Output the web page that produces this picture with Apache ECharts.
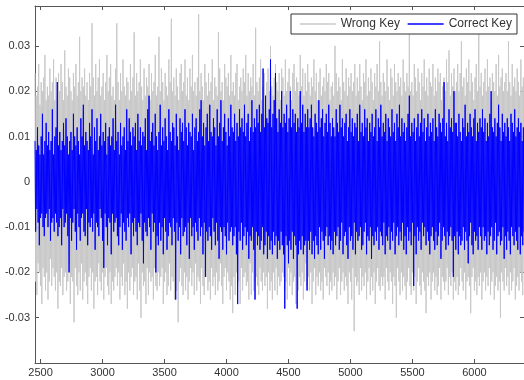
<!DOCTYPE html>
<html>
<head>
<meta charset="utf-8">
<script src="https://cdn.jsdelivr.net/npm/echarts@6/dist/echarts.min.js"></script>
<style>
  html, body { margin: 0; padding: 0; background: #fff; }
  #chart { width: 524px; height: 380px; }
</style>
</head>
<body>
<div id="chart"></div>
<script>
// sample index of the first point and the spacing between points
const sampleStart = 2455;
const sampleStep = 5;

// values, in units of 1e-3
const wrongKey = [
  24,-22,19,-25,21,-18,26,-20,17,-23,22,-27,20,-19,23,-21,28,-24,18,-20,21,-26,19,-22,25,-17,20,-23,22,-19,27,-21,18,-24,23,-20,19,-28,24,-22,
  20,-23,26,-19,22,-25,18,-21,29,-20,21,-24,19,-22,25,-18,23,-27,20,-21,18,-22,24,-31,21,-19,26,-23,19,-25,22,-20,32,-24,20,-18,23,-26,21,-22,
  25,-20,19,-23,22,-27,18,-21,24,-19,21,-24,35,-20,23,-28,19,-22,26,-21,20,-25,23,-18,27,-22,19,-24,21,-20,24,-26,18,-21,22,-19,28,-23,20,-25,
  23,-20,26,-27,19,-22,21,-24,18,-21,25,-19,35,-23,22,-20,18,-26,24,-21,20,-23,27,-18,21,-25,19,-22,23,-28,22,-20,18,-24,26,-21,20,-19,23,-25,
  33,-22,19,-21,24,-26,20,-18,22,-24,27,-30,21,-20,18,-23,25,-22,19,-27,23,-19,21,-25,26,-20,18,-22,24,-21,20,-26,22,-19,28,-23,19,-24,21,-20,
  32,-23,20,-21,25,-19,22,-27,18,-22,24,-20,21,-25,19,-23,27,-18,22,-24,36,-21,20,-22,23,-26,19,-20,25,-24,21,-31,18,-22,24,-19,26,-23,20,-25,
  22,-20,27,-24,19,-21,23,-26,18,-22,25,-19,21,-23,28,-20,20,-25,22,-18,19,-24,23,-21,37,-22,20,-27,24,-19,21,-23,18,-25,26,-20,22,-21,19,-24,
  24,-22,20,-26,22,-19,27,-23,18,-21,23,-25,21,-20,19,-24,33,-22,25,-18,20,-23,22,-27,18,-21,26,-19,23,-24,21,-20,24,-22,19,-26,28,-23,20,-29,
  22,-21,19,-25,24,-20,26,-23,18,-22,21,-27,23,-19,20,-24,25,-21,22,-20,28,-23,19,-22,24,-26,20,-18,23,-25,21,-20,26,-24,19,-22,34,-21,22,-23,
  20,-25,23,-19,27,-22,18,-24,21,-20,24,-23,19,-21,22,-28,25,-20,20,-24,30,-22,21,-26,19,-20,23,-24,26,-19,22,-25,20,-21,24,-23,18,-22,25,-20,
  23,-21,19,-24,27,-22,20,-26,22,-19,25,-23,21,-20,18,-25,24,-22,26,-21,20,-27,23,-19,22,-24,19,-21,28,-23,21,-20,25,-26,19,-22,24,-18,20,-23,
  26,-21,22,-24,19,-20,23,-27,21,-22,27,-19,20,-25,24,-21,18,-23,22,-20,25,-24,19,-22,21,-26,23,-19,20,-21,26,-23,22,-20,24,-25,18,-22,21,-24,
  22,-20,19,-23,30,-21,24,-26,20,-22,23,-19,21,-25,18,-22,27,-20,22,-24,20,-21,25,-23,19,-27,23,-20,21,-22,24,-26,20,-19,22,-33,26,-21,19,-23,
  23,-22,20,-25,26,-19,21,-24,18,-21,24,-23,22,-20,27,-26,19,-22,23,-19,20,-25,25,-21,22,-24,18,-20,24,-27,21,-22,26,-19,20,-23,31,-24,22,-21,
  19,-23,24,-21,22,-26,20,-19,27,-22,21,-24,18,-20,25,-22,23,-27,19,-21,26,-23,22,-30,20,-19,24,-22,21,-25,23,-20,19,-24,27,-21,22,-23,20,-26,
  24,-22,21,-19,34,-23,20,-25,22,-20,19,-24,26,-21,23,-27,20,-22,25,-19,22,-23,18,-25,24,-20,21,-22,27,-24,20,-29,23,-21,19,-23,25,-20,22,-26,
  21,-22,26,-20,19,-24,23,-21,20,-25,25,-23,22,-19,24,-26,18,-21,21,-22,23,-24,20,-22,27,-19,22,-25,29,-21,19,-23,24,-20,21,-26,25,-22,20,-24,
  22,-21,26,-25,20,-23,24,-19,31,-22,21,-24,23,-20,19,-26,25,-22,22,-21,27,-23,20,-29,24,-21,22,-19,18,-24,23,-22,26,-25,20,-21,35,-23,21,-20,
  24,-26,19,-22,22,-20,25,-24,20,-21,27,-23,21,-19,23,-25,18,-22,24,-20,22,-26,20,-23,26,-21,19,-24,28,-22,21,-30,23,-20,25,-22,20,-24,22,-19,
  24,-23,20,-21,31,-25,22,-20,19,-24,26,-22,21,-19,23,-26,20,-23,25,-21,22,-24,19,-20,27,-22,21,-25,23,-20
];

const correctKey = [
  9,-11,7,-6,12,-9,8,-14,6,-8,10,-7,15,-10,6,-12,9,-8,13,-7,8,-10,11,-6,7,-13,9,-9,16,-8,6,-11,10,-7,12,-9,22,-12,8,-10,
  11,-8,7,-14,9,-6,13,-10,8,-9,14,-7,10,-12,6,-20,9,-8,11,-13,7,-9,15,-6,10,-11,8,-15,12,-7,9,-10,6,-13,14,-8,10,-7,17,-11,
  8,-12,11,-6,9,-14,7,-9,13,-10,10,-8,16,-11,6,-7,12,-15,9,-9,14,-10,7,-12,10,-6,15,-8,8,-13,11,-19,9,-7,13,-10,6,-14,10,-8,
  12,-9,8,-16,10,-7,14,-11,7,-9,17,-8,9,-12,11,-14,6,-10,13,-7,8,-15,10,-9,12,-11,7,-13,16,-8,9,-10,14,-7,11,-16,8,-9,12,-12,
  10,-8,13,-11,7,-14,15,-9,9,-10,12,-7,8,-13,11,-18,10,-9,14,-11,7,-12,16,-8,19,-10,9,-15,11,-7,13,-11,8,-9,15,-20,10,-12,7,-14,
  11,-9,17,-13,8,-10,12,-16,9,-8,14,-11,10,-15,7,-12,16,-9,11,-10,9,-14,13,-8,12,-11,8,-26,15,-9,10,-13,7,-10,14,-16,11,-8,13,-12,
  9,-11,16,-10,12,-14,8,-9,13,-17,11,-8,10,-12,15,-10,7,-15,12,-9,14,-11,9,-13,11,-8,16,-12,18,-10,10,-16,13,-9,8,-21,12,-11,15,-13,
  9,-10,17,-12,11,-15,10,-8,14,-11,12,-14,8,-9,16,-13,10,-17,13,-10,18,-11,9,-15,12,-10,15,-12,11,-16,8,-9,14,-13,10,-11,17,-10,12,-14,
  11,-12,15,-10,9,-16,13,-27,10,-11,16,-13,12,-9,14,-15,11,-12,17,-10,10,-14,13,-11,15,-17,9,-12,12,-13,18,-10,11,-15,14,-26,12,-11,16,-14,
  13,-12,17,-15,11,-13,15,-10,25,-16,12,-14,19,-11,14,-17,13,-12,16,-15,27,-13,12,-16,15,-11,18,-14,24,-12,14,-17,11,-13,16,-15,13,-11,20,-14,
  12,-16,15,-28,13,-12,17,-14,11,-18,14,-13,20,-15,12,-11,16,-17,13,-12,15,-14,11,-28,14,-16,12,-13,20,-15,13,-12,17,-16,11,-14,15,-13,12,-24,
  16,-13,12,-15,14,-11,17,-16,12,-13,10,-17,15,-12,13,-14,11,-16,18,-10,12,-15,14,-11,16,-13,10,-17,13,-12,15,-10,11,-14,17,-12,13,-15,10,-13,
  14,-16,12,-11,10,-14,16,-12,13,-10,11,-15,17,-13,12,-9,14,-16,10,-12,13,-11,15,-14,9,-17,12,-10,16,-13,11,-12,14,-15,10,-9,13,-16,12,-11,
  15,-13,9,-12,17,-10,11,-15,13,-14,10,-11,16,-9,12,-16,14,-12,9,-13,13,-10,11,-17,15,-12,10,-14,12,-11,16,-13,9,-10,14,-15,12,-11,17,-12,
  10,-14,13,-9,11,-16,15,-12,9,-13,14,-10,12,-15,10,-11,16,-13,11,-9,13,-16,9,-12,15,-10,12,-14,17,-11,10,-13,14,-9,11,-15,13,-12,9,-16,
  12,-10,15,-13,19,-11,10,-14,13,-9,11,-23,14,-12,9,-16,12,-10,15,-13,10,-11,13,-15,16,-9,11,-12,14,-10,9,-14,12,-11,15,-13,10,-16,13,-12,
  11,-10,14,-13,9,-15,16,-11,12,-14,10,-12,15,-9,13,-17,11,-13,14,-10,22,-12,10,-15,13,-11,9,-14,16,-12,12,-10,14,-13,11,-21,20,-12,13,-15,
  13,-11,10,-16,15,-12,11,-14,9,-13,14,-10,12,-15,17,-11,10,-13,13,-18,11,-12,15,-9,12,-14,10,-16,14,-11,16,-13,9,-12,13,-15,11,-10,14,-12,
  12,-15,16,-10,11,-13,14,-12,9,-16,13,-11,10,-14,15,-12,20,-10,12,-15,11,-13,14,-9,10,-16,13,-12,17,-11,12,-14,9,-13,15,-10,11,-17,13,-12,
  10,-15,14,-11,12,-13,9,-16,15,-10,13,-12,11,-14,16,-11,10,-13,12,-15,14,-10,11,-16,13,-12,9,-14,12,-11
];

const xTicks = [2500, 3000, 3500, 4000, 4500, 5000, 5500, 6000];
const yTicks = [-0.03, -0.02, -0.01, 0, 0.01, 0.02, 0.03];

const toPoints = (vals) => vals.map((v, i) => [sampleStart + i * sampleStep, v / 1000]);

const chart = echarts.init(document.getElementById('chart'));

const axisLine = { show: true, onZero: false, lineStyle: { color: '#555', width: 1 } };
const font = 'Arial, "Liberation Sans", sans-serif';

const xBase = {
  type: 'value',
  min: 2455,
  max: 6400,
  axisLine: axisLine,
  splitLine: { show: false },
  axisTick: { show: true, inside: true, length: 4, customValues: xTicks, lineStyle: { color: '#555' } }
};

const yBase = {
  type: 'value',
  min: -0.04,
  max: 0.0388,
  axisLine: axisLine,
  splitLine: { show: false },
  axisTick: { show: true, inside: true, length: 4, customValues: yTicks, lineStyle: { color: '#555' } }
};

chart.setOption({
  animation: false,
  backgroundColor: '#fff',
  grid: { left: 35, right: -1, top: 6, bottom: 17 },
  legend: {
    left: 291,
    top: 14,
    padding: [4, 5, 4, 8],
    itemGap: 7,
    itemWidth: 36,
    itemHeight: 14,
    backgroundColor: '#fff',
    borderColor: '#333',
    borderWidth: 1,
    itemStyle: { opacity: 0 },
    lineStyle: { width: 1.5 },
    textStyle: { fontSize: 12, color: '#333', fontFamily: font },
    data: ['Wrong Key', 'Correct Key']
  },
  xAxis: [
    Object.assign({}, xBase, {
      position: 'bottom',
      axisLabel: {
        customValues: xTicks, color: '#333', fontSize: 11, fontFamily: font, margin: 4,
        formatter: (v) => String(v)
      }
    }),
    Object.assign({}, xBase, { position: 'top', axisLabel: { show: false } })
  ],
  yAxis: [
    Object.assign({}, yBase, {
      position: 'left',
      axisLabel: {
        customValues: yTicks,
        color: '#333',
        fontSize: 11,
        fontFamily: font,
        margin: 5,
        formatter: (v) => (Math.abs(v) < 1e-9 ? '0' : v.toFixed(2))
      }
    }),
    Object.assign({}, yBase, { position: 'right', axisLabel: { show: false } })
  ],
  series: [
    {
      name: 'Wrong Key',
      type: 'line',
      data: toPoints(wrongKey),
      symbol: 'none',
      sampling: null,
      lineStyle: { color: '#c8c8c8', width: 1 },
      itemStyle: { color: '#c8c8c8' },
      silent: true
    },
    {
      name: 'Correct Key',
      type: 'line',
      data: toPoints(correctKey),
      symbol: 'none',
      lineStyle: { color: '#0000ff', width: 1 },
      itemStyle: { color: '#0000ff' },
      silent: true
    }
  ]
});
</script>
</body>
</html>
